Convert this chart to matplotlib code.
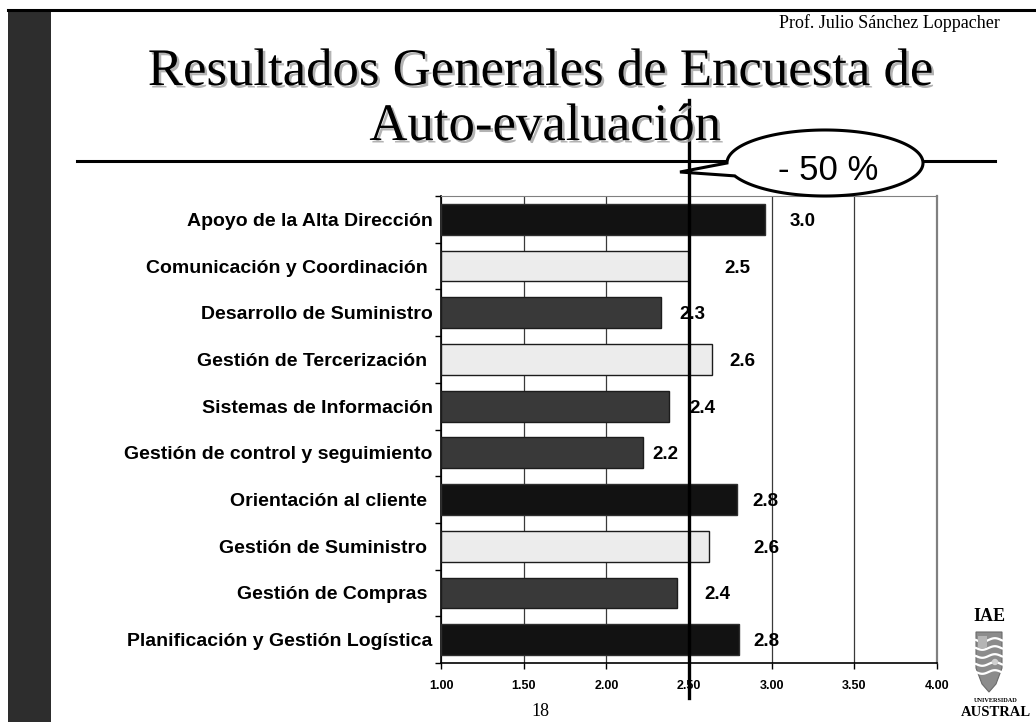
import numpy as np
import matplotlib
matplotlib.use('Agg')
from matplotlib import pyplot as plt
from matplotlib import patches
from matplotlib.path import Path
from matplotlib.ticker import FixedLocator
import matplotlib.patheffects as pe

# chart data, top bar first
categories = ['Apoyo de la Alta Dirección', 'Comunicación y Coordinación ',
              'Desarrollo de Suministro', 'Gestión de Tercerización ',
              'Sistemas de Información', 'Gestión de control y seguimiento',
              'Orientación al cliente ', 'Gestión de Suministro ',
              'Gestión de Compras ', 'Planificación y Gestión Logística']
scores = [2.96, 2.50, 2.33, 2.64, 2.38, 2.22, 2.79, 2.62, 2.43, 2.80]
score_labels = ['3.0', '2.5', '2.3', '2.6', '2.4', '2.2', '2.8', '2.6', '2.4', '2.8']
bar_tone = ['black', 'light', 'dark', 'light', 'dark', 'dark', 'black', 'light', 'dark', 'black']
x_ticks = [1.00, 1.50, 2.00, 2.50, 3.00, 3.50, 4.00]
threshold = 2.50

# where the value labels sit (data units), as on the slide
label_x = [3.19, 2.79, 2.52, 2.82, 2.58, 2.36, 2.96, 2.97, 2.67, 2.97];

W = 1036;
H = 722;
SERIF = 'Liberation Serif';
SANS = 'Liberation Sans';

TONES = {'black': ('#121212', '#2e2e2e'),
         'dark': ('#393939', '#1c1c1c'),
         'light': ('#ececec', '#1c1c1c')};


def drawCallout(ax, cx, cy, a, b, tip):
    # ellipse with a pointed tail going left, built as one path
    t_start = np.radians(180);
    t_end = np.radians(157);
    ts = np.linspace(t_start, t_end + 2*np.pi, 200);
    pts = [(cx + a*np.cos(t), cy + b*np.sin(t)) for t in ts];
    pts.append(tip);
    pts.append(pts[0]);
    codes = [Path.MOVETO] + [Path.LINETO]*(len(pts) - 2) + [Path.CLOSEPOLY];
    shape = patches.PathPatch(Path(pts, codes), facecolor='white', edgecolor='black',
                              lw=2.2, zorder=4);
    ax.add_patch(shape);


def drawLogo(ax):
    ax.text(989, 621, 'IAE', ha='center', va='baseline', fontsize=13,
            family=SERIF, fontweight='bold');
    shield = [(976, 632), (1002, 632), (1002, 668), (996, 684), (989, 692),
              (982, 684), (976, 668)];
    ax.add_patch(patches.Polygon(shield, closed=True, facecolor='#8c8c8c',
                                 edgecolor='#6a6a6a', lw=0.8, zorder=4));
    xs = np.linspace(976, 1002, 40);
    for y0 in [640, 648, 656, 664, 672]:
        ax.plot(xs, y0 + 1.8*np.sin((xs - 976)/4.0), color='white', lw=1.6, zorder=5);
    ax.add_patch(patches.Rectangle((978, 636), 9, 12, facecolor='#b5b5b5',
                                   edgecolor='none', zorder=6));
    ax.add_patch(patches.Circle((995, 662), 3.2, facecolor='#d0d0d0', edgecolor='none',
                                zorder=6));
    ax.text(996, 702, 'UNIVERSIDAD', ha='center', va='baseline', fontsize=4.5,
            family=SERIF, fontweight='bold');
    ax.text(996, 716, 'AUSTRAL', ha='center', va='baseline', fontsize=10.5,
            family=SERIF, fontweight='bold');


fig = plt.figure(figsize=(W/100, H/100), dpi=100);
fig.patch.set_facecolor('white');

# bar chart
ax = fig.add_axes([441/W, 1 - 663/H, 496/W, 467/H]);
ypos = np.arange(len(categories));
faces = [TONES[t][0] for t in bar_tone];
edges = [TONES[t][1] for t in bar_tone];
ax.barh(ypos, np.array(scores) - 1.0, left=1.0, height=0.66, color=faces,
        edgecolor=edges, lw=1.0, zorder=3);
ax.set_xlim(1.0, 4.0);
ax.set_ylim(len(categories) - 0.5, -0.5);

ax.set_xticks(x_ticks);
ax.set_xticklabels(['%.2f' % v for v in x_ticks], fontsize=9, fontweight='bold',
                   family=SANS);
ax.xaxis.grid(True, color='#3a3a3a', lw=0.9, zorder=1);
ax.set_axisbelow(True);
ax.tick_params(axis='x', length=4, width=1, pad=8, color='black');

ax.set_yticks(ypos);
ax.set_yticklabels(categories, fontsize=14, fontweight='bold', family=SANS);
ax.tick_params(axis='y', which='major', length=0, pad=6);
ax.yaxis.set_minor_locator(FixedLocator(np.arange(-0.5, len(categories), 1.0)));
ax.tick_params(axis='y', which='minor', length=4, width=1, color='black');

ax.spines['left'].set_color('black');
ax.spines['left'].set_linewidth(1.2);
ax.spines['bottom'].set_color('black');
ax.spines['bottom'].set_linewidth(1.2);
ax.spines['top'].set_color('#808080');
ax.spines['top'].set_linewidth(0.8);
ax.spines['right'].set_color('#808080');
ax.spines['right'].set_linewidth(1.6);

for i in range(len(scores)):
    ax.text(label_x[i], ypos[i], score_labels[i], ha='center', va='center_baseline',
            fontsize=13.5, fontweight='bold', family=SANS, zorder=6);

# the -50% threshold line runs past the plot area
ax.axvline(threshold, ymin=-0.076, ymax=1.206, clip_on=False, color='black',
           lw=2.4, zorder=7);

# slide decorations in pixel coords
ov = fig.add_axes([0, 0, 1, 1]);
ov.set_xlim(0, W);
ov.set_ylim(H, 0);
ov.axis('off');
ov.patch.set_alpha(0);

ov.add_patch(patches.Rectangle((8, 10), 43, H - 10, facecolor='#2d2d2d',
                               edgecolor='none'));
ov.plot([8, W], [10, 10], color='black', lw=2.2);

shadow = [pe.SimplePatchShadow(offset=(1.8, -1.8), shadow_rgbFace='#a0a0a0', alpha=0.8),
          pe.Normal()];
ov.text(540, 85, 'Resultados Generales de Encuesta de', ha='center', va='baseline',
        fontsize=38, family=SERIF, path_effects=shadow);
ov.text(545, 140, 'Auto-evaluación', ha='center', va='baseline', fontsize=38,
        family=SERIF, path_effects=shadow);
ov.text(1000, 28, 'Prof. Julio Sánchez Loppacher', ha='right', va='baseline',
        fontsize=13, family=SERIF);

ov.plot([77, 995], [161, 161], color='black', lw=2.2, zorder=3);
drawCallout(ov, 825, 163, 98, 33, (680, 172));
ov.text(828, 170, '- 50 %', ha='center', va='center', fontsize=25, family=SANS,
        zorder=5);

ov.text(540, 716, '18', ha='center', va='baseline', fontsize=13, family=SERIF);
drawLogo(ov);

fig.savefig('out.png', dpi=100);
